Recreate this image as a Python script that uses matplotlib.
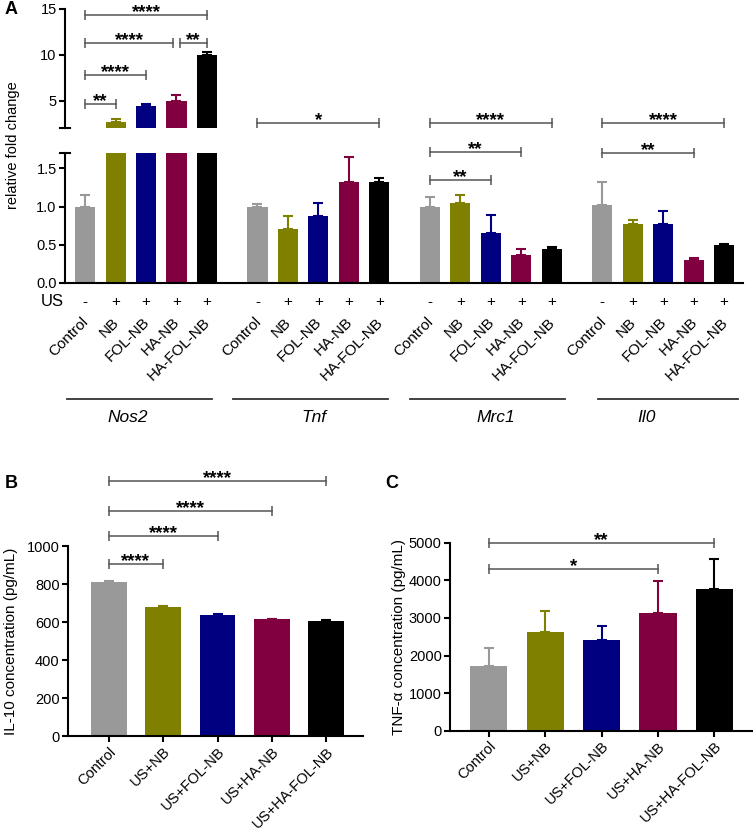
import numpy as np
import matplotlib
matplotlib.use("Agg")
import matplotlib.pyplot as plt
import matplotlib.transforms as mtrans

plt.rcParams['font.family'] = ['Liberation Sans', 'DejaVu Sans']
plt.rcParams['axes.linewidth'] = 1.5

# ---- data ----
genes = ["Nos2", "Tnf", "Mrc1", "Il0"]
conds = ["Control", "NB", "FOL-NB", "HA-NB", "HA-FOL-NB"]
us_marks = ["-", "+", "+", "+", "+"]
colors = ["#999999", "#808000", "#000080", "#800040", "#000000"]

nos2 = [1.0, 2.64, 4.42, 4.97, 10.0]
nos2_err = [0.155, 0.29, 0.25, 0.68, 0.29]
tnf = [0.99, 0.70, 0.88, 1.325, 1.32]
tnf_err = [0.04, 0.175, 0.17, 0.325, 0.057]
mrc1 = [1.0, 1.04, 0.653, 0.364, 0.44]
mrc1_err = [0.13, 0.116, 0.237, 0.081, 0.027]
il0 = [1.02, 0.775, 0.775, 0.30, 0.50]
il0_err = [0.305, 0.045, 0.165, 0.03, 0.015]

elisa_labels = ["Control", "US+NB", "US+FOL-NB", "US+HA-NB", "US+HA-FOL-NB"]
il10 = [810, 679, 640, 619, 608]
il10_err = [7, 8, 2, 1, 6]
tnfa = [1713, 2625, 2412, 3130, 3777]
tnfa_err = [487, 558, 381, 843, 782]

# significance: (gene, i, j, y, label)
sig_up = [(0, 0, 1, 4.57, "**"), (0, 0, 2, 7.75, "****"), (0, 0, 3, 11.3, "****"),
          (0, 3, 4, 11.3, "**"), (0, 0, 4, 14.35, "****")]
sig_lo = [(1, 0, 4, 2.09, "*"), (2, 0, 4, 2.09, "****"), (2, 0, 3, 1.714, "**"),
          (2, 0, 2, 1.35, "**"), (3, 0, 4, 2.09, "****"), (3, 0, 3, 1.70, "**")]
sig_b = [(0, 1, 905, "****"), (0, 2, 1056, "****"), (0, 3, 1186, "****"), (0, 4, 1345, "****")]
sig_c = [(0, 3, 4300, "*"), (0, 4, 5000, "**")]

W, H = 753, 830
fig = plt.figure(figsize=(W / 100, H / 100), dpi=100)


def box(l, t, r, b):
    return [l / W, 1 - b / H, (r - l) / W, (b - t) / H]


def fy(p):
    return 1 - p / H


def bars(ax, xs, vals, errs, width=0.66):
    ax.bar(xs, vals, width=width, color=colors, zorder=2)
    for x, v, e, c in zip(xs, vals, errs, colors):
        ax.errorbar(x, v, yerr=[[0], [e]], fmt="none", ecolor=c, elinewidth=1.5,
                    capsize=3.5, capthick=1.5, zorder=1)


def bracket(ax, x1, x2, y, label):
    ax.plot([x1, x2], [y, y], color="#555555", lw=1.1, marker="|", ms=7, mew=1.1,
            clip_on=False)
    ax.annotate(label, ((x1 + x2) / 2, y), xytext=(0, -1.5), textcoords="offset points",
                ha="center", va="baseline", fontsize=13.5, fontweight="bold",
                annotation_clip=False)


# ---- panel A ----
ax_up = fig.add_axes(box(65, 9, 743, 128))
ax_lo = fig.add_axes(box(65, 153, 743, 283))
off = 5.66
allv = [(nos2, nos2_err), (tnf, tnf_err), (mrc1, mrc1_err), (il0, il0_err)]
for g, (v, e) in enumerate(allv):
    xs = g * off + np.arange(5)
    for ax in (ax_up, ax_lo):
        bars(ax, xs, v, e)

for ax in (ax_up, ax_lo):
    ax.set_xlim(-0.66, 21.6)
    ax.spines["top"].set_visible(False)
    ax.spines["right"].set_visible(False)
    ax.tick_params(axis="x", bottom=False, labelbottom=False)
    ax.tick_params(axis="y", width=1.5, length=4, labelsize=10.5, pad=2)

ax_up.spines["bottom"].set_visible(False)
ax_up.set_ylim(2, 15)
ax_up.set_yticks([5, 10, 15])
ax_lo.set_ylim(0, 1.7)
ax_lo.set_yticks([0, 0.5, 1.0, 1.5])
ax_lo.set_yticklabels(["0.0", "0.5", "1.0", "1.5"])
# break marks
dx = 5 / 678
ax_up.plot([-dx, dx], [0, 0], transform=ax_up.transAxes, color="black", lw=1.5, clip_on=False)
ax_lo.plot([-dx, dx], [1, 1], transform=ax_lo.transAxes, color="black", lw=1.5, clip_on=False)

for g, i, j, y, lab in sig_up:
    x1 = g * off + i
    x2 = g * off + j
    if i == 3:
        x1 += 0.13
    elif j == 3:
        x2 -= 0.1
    bracket(ax_up, x1, x2, y, lab)
for g, i, j, y, lab in sig_lo:
    bracket(ax_lo, g * off + i, g * off + j, y, lab)

trans = mtrans.blended_transform_factory(ax_lo.transData, fig.transFigure)
fig.text(52 / W, fy(302), "US", ha="center", va="center", fontsize=12)
spans = [(-0.6, 4.15), (-0.8, 4.3), (-0.65, 4.45), (-0.15, 4.45)]
gene_x = [1.4, 1.85, 2.15, 1.45]
for g in range(4):
    for i in range(5):
        x = g * off + i
        ax_lo.text(x, fy(302), us_marks[i], transform=trans, ha="center", va="center", fontsize=11)
        ax_lo.text(x - 0.12, fy(315), conds[i], transform=trans, rotation=45, ha="right",
                   va="top", rotation_mode="anchor", fontsize=11)
    a, b = spans[g]
    ax_lo.plot([g * off + a, g * off + b], [fy(399.3)] * 2, transform=trans, clip_on=False,
               color="#333333", lw=1.3)
    ax_lo.text(g * off + gene_x[g], fy(417), genes[g], transform=trans, ha="center",
               va="center", fontsize=12.5, style="italic")

fig.text(13 / W, fy(145), "relative fold change", rotation=90, ha="center", va="center", fontsize=10.5)

# ---- panels B and C ----
ax_b = fig.add_axes(box(68, 546.3, 362.7, 736.3))
ax_c = fig.add_axes(box(450, 542.7, 752, 730.7))
xs = np.arange(5)
bars(ax_b, xs, il10, il10_err)
bars(ax_c, xs, tnfa, tnfa_err)
ax_b.set_xlim(-0.75, 4.67)
ax_b.set_ylim(0, 1000)
ax_b.set_yticks([0, 200, 400, 600, 800, 1000])
ax_c.set_xlim(-0.69, 4.67)
ax_c.set_ylim(0, 5000)
ax_c.set_yticks([0, 1000, 2000, 3000, 4000, 5000])
for ax in (ax_b, ax_c):
    ax.spines["top"].set_visible(False)
    ax.spines["right"].set_visible(False)
    ax.set_xticks(xs)
    ax.set_xticklabels(elisa_labels, rotation=45, ha="right", rotation_mode="anchor")
    ax.tick_params(width=1.5, length=4, labelsize=10.5, pad=2)
ax_b.set_ylabel("IL-10 concentration (pg/mL)", fontsize=11)
ax_b.yaxis.set_label_coords(-0.17, 0.5)
ax_c.set_ylabel("TNF-\u03b1 concentration (pg/mL)", fontsize=11)
ax_c.yaxis.set_label_coords(-0.146, 0.5)

for i, j, y, lab in sig_b:
    bracket(ax_b, i, j, y, lab)
for i, j, y, lab in sig_c:
    bracket(ax_c, i, j, y, lab)

fig.text(5 / W, fy(9), "A", fontweight="bold", fontsize=13, ha="left", va="center")
fig.text(5 / W, fy(483), "B", fontweight="bold", fontsize=13, ha="left", va="center")
fig.text(385 / W, fy(483), "C", fontweight="bold", fontsize=13, ha="left", va="center")

fig.savefig("out.png", dpi=100)
